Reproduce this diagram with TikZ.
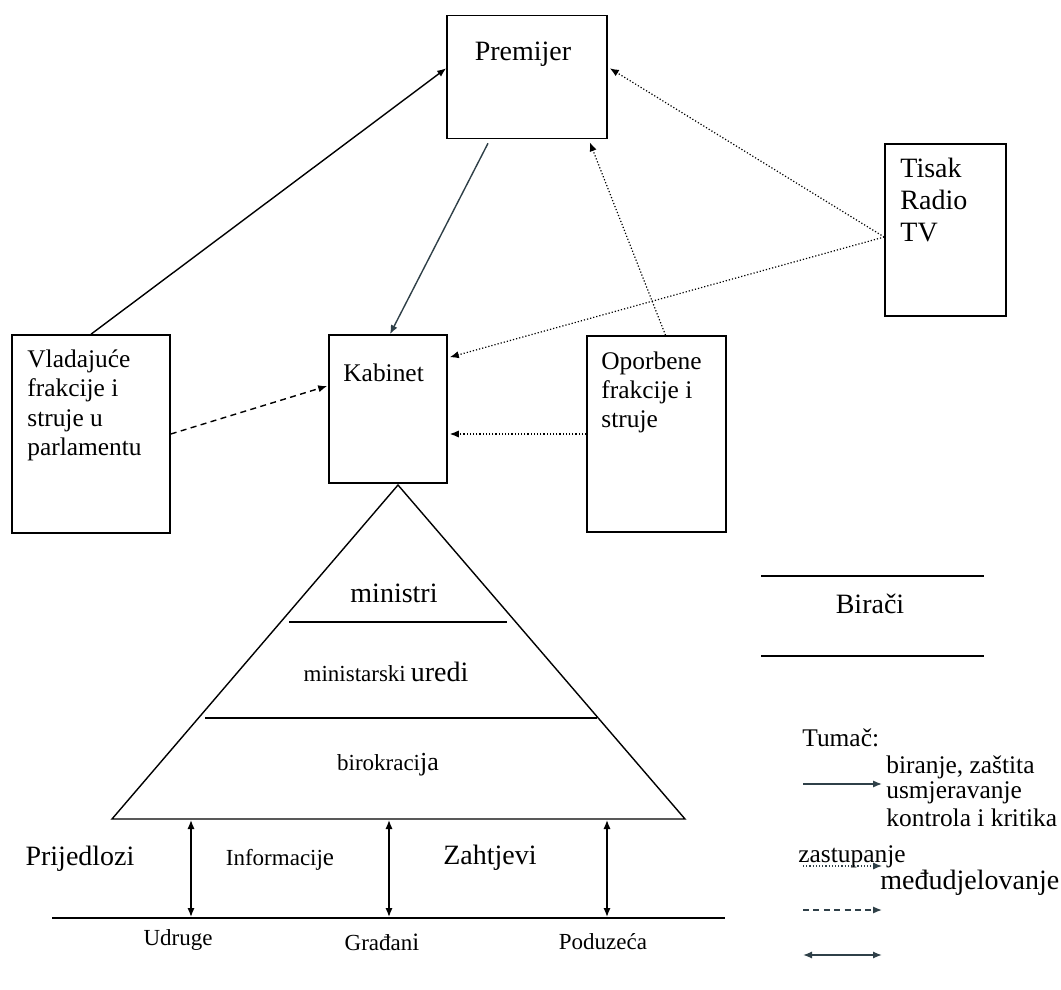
\documentclass[tikz,border=0pt]{standalone}
\usepackage{fontspec}
\setmainfont{Liberation Serif}
\usetikzlibrary{arrows.meta,calc,positioning}
\definecolor{slateArrow}{RGB}{47,64,72}

\begin{document}
\begin{tikzpicture}[x=0.5pt,y=-0.5pt,
    >={Latex[length=4.5pt,width=3.6pt]},
    box/.style={draw,line width=0.8pt,inner sep=0pt},
    big/.style={font=\fontsize{14}{16.5}\selectfont},
    mid/.style={font=\fontsize{12.7}{14.8}\selectfont},
    small/.style={font=\fontsize{11.5}{13}\selectfont},
    txt/.style={inner sep=0pt,align=left,anchor=north west},
    lbl/.style={inner sep=0pt,anchor=west},
    link/.style={->,line width=0.7pt},
    dots/.style={->,line width=0.6pt,densely dotted},
    dashes/.style={->,line width=0.7pt,dash pattern=on 3pt off 2.2pt}]

  \useasboundingbox (0,0) rectangle (1061,990);

  % draw the boxes
  \node[box,minimum width=80pt,minimum height=61.5pt] (prem) at (527,77) {};
  \node[box,minimum width=60.5pt,minimum height=86pt] (tisak) at (945.5,230) {};
  \node[box,minimum width=79pt,minimum height=99pt] (vlad) at (91,434) {};
  \node[box,minimum width=59pt,minimum height=74pt] (kab) at (388,409) {};
  \node[box,minimum width=69.5pt,minimum height=98pt] (opor) at (656.5,434) {};

  % texts in the boxes
  \node[big] (premT) at (523,54) {Premijer};
  \node[big,txt,font=\fontsize{14}{16}\selectfont] (tisakT) at (900,158) {Tisak\\Radio\\TV};
  \node[mid,txt] (vladT) at (27,349) {Vladajuće\\frakcije i\\struje u\\parlamentu};
  \node[mid,lbl] (kabT) at (343,373) {Kabinet};
  \node[mid,txt,font=\fontsize{12.7}{14.6}\selectfont] (oporT) at (601,351) {Oporbene\\frakcije i\\struje};

  % draw the connectors
  \draw[link] (vlad.north) -- ($(prem.north west)!0.43!(prem.south west)$);
  \draw[link,slateArrow] ($(prem.south)+(-39,4)$) -- ($(kab.north)+(2,0)$);
  \coordinate (media) at ($(tisak.west)+(0,7)$);
  \draw[dots] (media) -- ($(prem.north east)!0.43!(prem.south east)+(2,0)$);
  \draw[dots] (media) -- ($(kab.north east)+(2,23)$);
  \draw[dots] ($(opor.north)+(9,0)$) -- ($(prem.south east)+(-18,3)$);
  \draw[dots] (opor.west) -- ($(opor.west -| kab.east)+(2,0)$);
  \draw[dashes] (vlad.east) -- ($(kab.west)+(-1,-23)$);

  % draw the pyramid
  \coordinate (apex) at (398,485);
  \coordinate (baseL) at (112,819);
  \coordinate (baseR) at (685,819);
  \draw[line width=0.7pt] (apex) -- (baseL) -- (baseR) -- cycle;
  \draw[line width=0.8pt] (289,622) -- (507,622);
  \draw[line width=0.8pt] (205,718) -- (597,718);
  \node[big] (ministri) at (394,593) {ministri};
  \node (uredi) at (386,672) {{\fontsize{11.5}{13}\selectfont ministarski} {\fontsize{14}{16}\selectfont uredi}};
  \node (biro) at (388,765) {{\fontsize{11.5}{13}\selectfont birokraci}{\fontsize{13}{15}\selectfont ja}};

  % citizens and the exchange with the administration
  \draw[line width=1pt] (52,918) coordinate (groundL) -- (725,918) coordinate (groundR);
  \foreach \x in {191,389,607}
    \draw[<->,line width=0.7pt] (\x,820) -- (\x,917);
  \node[big] (prijed) at (80,859) {Prijedlozi};
  \node (inform) at (280,860) {{\fontsize{11.5}{13}\selectfont Informacij}{\fontsize{12.5}{14}\selectfont e}};
  \node[big] (zaht) at (490,858) {Zahtjevi};
  \node[small] (udruge) at (178,940) {Udruge};
  \node (gradj) at (382,942) {{\fontsize{11.5}{13}\selectfont Građan}{\fontsize{12.5}{14}\selectfont i}};
  \node[small] (poduz) at (603,942) {Poduzeća};

  % voters
  \draw[line width=0.7pt] (761,576) -- (984,576);
  \draw[line width=0.7pt] (761,656) -- (984,656);
  \node[big] (biraci) at (870,604) {Birači};

  % the legend
  \node[mid,lbl] (tumac) at (802,738) {Tumač:};
  \node[mid,lbl] (lgA) at (886,767) {biranje, zaštita};
  \node[mid,lbl] (lgB) at (886,793) {usmjeravanje};
  \node[mid,lbl] (lgC) at (886,818) {kontrola i kritika};
  \node[mid,lbl] (lgD) at (798,857) {zastupanje};
  \node[big,lbl] (lgE) at (880,883) {međudjelovanje};
  \draw[link,slateArrow] (803,784) -- (882,784);
  \draw[dots,slateArrow] (803,866) -- (882,866);
  \draw[dashes,slateArrow] (803,910) -- (882,910);
  \draw[<->,line width=0.8pt,slateArrow] (803,955) -- (882,955);

\end{tikzpicture}
\end{document}
